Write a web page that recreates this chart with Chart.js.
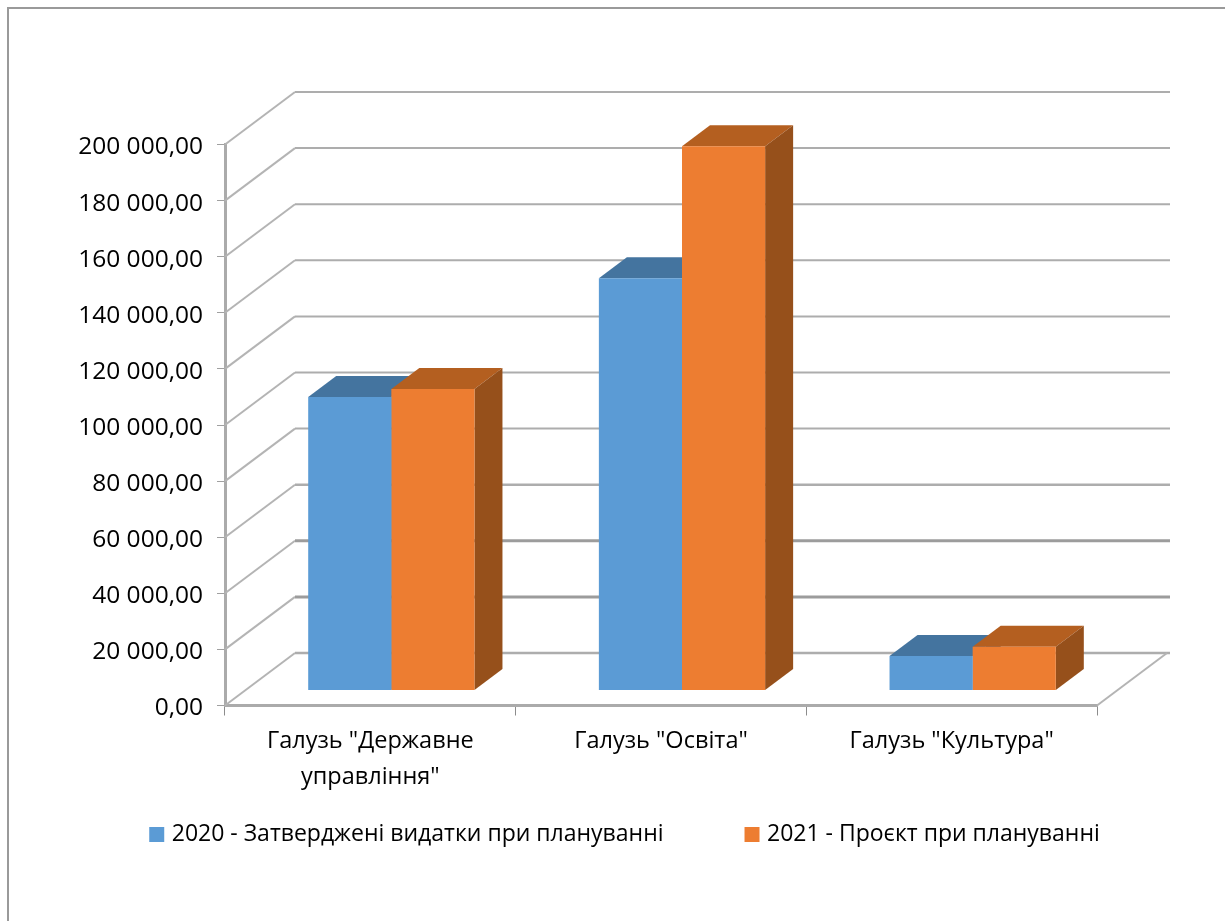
<!DOCTYPE html>
<html>
<head>
<meta charset="utf-8">
<script src="https://cdn.jsdelivr.net/npm/chart.js@4"></script>
<style>
  html, body { margin: 0; padding: 0; background: #fff; }
  canvas { display: block; }
</style>
</head>
<body>
<canvas id="myChart" width="1225" height="921"></canvas>
<script>
const categories = [['Галузь "Державне', 'управління"'], 'Галузь "Освіта"', 'Галузь "Культура"'];
const seriesNames = ['2020 - Затверджені видатки при плануванні', '2021 - Проєкт при плануванні'];
const values2020 = [104600, 147000, 12300];
const values2021 = [107500, 194000, 15600];
const axisMax = 200000;
const axisStep = 20000;

const FONT = '"Open Sans"';
const frontColors = ['#5b9bd5', '#ed7d31'];
const topColors = ['#44749f', '#b45f20'];
const sideColors = ['#3e6a91', '#96501b'];

// fake 3D: back wall offset, bar offset from axis plane, bar depth
const wall = { dx: 70, dy: -52.5 };
const shift = { dx: 21, dy: -15 };
const depth = { dx: 28, dy: -21 };

function face(ctx, color, pts) {
    ctx.fillStyle = color;
    ctx.beginPath();
    pts.forEach((p, i) => i ? ctx.lineTo(p[0], p[1]) : ctx.moveTo(p[0], p[1]));
    ctx.closePath();
    ctx.fill();
}

const box3d = {
    id: "box3d",
    beforeDraw(chart) {
        const ctx = chart.ctx;
        // outer frame, open on the right and at the bottom
        ctx.save();
        ctx.strokeStyle = "#9a9a9a";
        ctx.lineWidth = 2;
        ctx.beginPath();
        ctx.moveTo(8, 921);
        ctx.lineTo(8, 8);
        ctx.lineTo(1225, 8);
        ctx.stroke();
        ctx.restore();
    },
    beforeDatasetsDraw(chart) {
        const ctx = chart.ctx;
        const y = chart.scales.y;
        const a = chart.chartArea;

        ctx.save();
        y.ticks.forEach(t => {
            const py = y.getPixelForValue(t.value);
            // side wall
            ctx.strokeStyle = "#b4b4b4";
            ctx.lineWidth = 2;
            ctx.beginPath();
            ctx.moveTo(a.left, py);
            ctx.lineTo(a.left + wall.dx, py + wall.dy);
            ctx.stroke();
            // back wall, the low lines look heavier in the picture
            const heavy = t.value === 20000 || t.value === 40000;
            ctx.strokeStyle = heavy ? "#9c9c9c" : "#adadad";
            ctx.lineWidth = heavy ? 3 : t.value === 60000 || t.value === 0 ? 2.5 : 2;
            ctx.beginPath();
            ctx.moveTo(a.left + wall.dx, py + wall.dy);
            ctx.lineTo(a.right + wall.dx + 3, py + wall.dy);
            ctx.stroke();
        });
        // floor edge on the right
        const py0 = y.getPixelForValue(0);
        ctx.strokeStyle = "#b4b4b4";
        ctx.lineWidth = 2;
        ctx.beginPath();
        ctx.moveTo(a.right, py0);
        ctx.lineTo(a.right + wall.dx, py0 + wall.dy);
        ctx.stroke();
        ctx.restore();

        ctx.save();
        ctx.translate(shift.dx, shift.dy);
        chart.data.datasets.forEach((ds, di) => {
            chart.getDatasetMeta(di).data.forEach(bar => {
                const p = bar.getProps(["x", "y", "width", "base"], true);
                const l = p.x - p.width / 2, r = p.x + p.width / 2;
                face(ctx, topColors[di], [[l, p.y], [r, p.y], [r + depth.dx, p.y + depth.dy], [l + depth.dx, p.y + depth.dy]]);
                face(ctx, sideColors[di], [[r, p.y], [r + depth.dx, p.y + depth.dy], [r + depth.dx, p.base + depth.dy], [r, p.base]]);
            });
        });
    },
    afterDatasetsDraw(chart) {
        chart.ctx.restore();
    },
    afterLayout(chart) {
        // move the legend to its place under the axis labels
        const l = chart.legend;
        l.left += 14;
        l.right += 14;
        l.top = 823 - l.options.labels.padding;
        l.bottom = l.top + l.height;
    }
};

let ctx = document.getElementById("myChart").getContext("2d");
let myChart = new Chart(ctx, {
    type: "bar",
    data: {
        labels: categories,
        datasets: [
            { label: seriesNames[0], data: values2020, backgroundColor: frontColors[0] },
            { label: seriesNames[1], data: values2021, backgroundColor: frontColors[1] }
        ]
    },
    options: {
        responsive: false,
        animation: false,
        layout: { padding: { left: 0, right: 0, top: 144.5, bottom: 0 } },
        datasets: { bar: { categoryPercentage: 0.572, barPercentage: 1, clip: false } },
        plugins: {
            title: { display: false },
            tooltip: { enabled: false },
            legend: {
                position: "bottom",
                labels: {
                    color: "#000",
                    font: { family: FONT, size: 23 },
                    boxWidth: 7,
                    boxHeight: 7,
                    padding: 85,
                    // thick same-colour stroke: keeps the square close to its text
                    generateLabels(chart) {
                        return Chart.defaults.plugins.legend.labels.generateLabels(chart).map(item => {
                            item.strokeStyle = item.fillStyle;
                            item.lineWidth = 8;
                            return item;
                        });
                    }
                }
            }
        },
        scales: {
            x: {
                grid: { drawOnChartArea: false, drawTicks: true, tickLength: 10, tickColor: "#8c8c8c", tickWidth: 1 },
                border: { color: "#ababab", width: 3 },
                ticks: {
                    color: "#000",
                    font: { family: FONT, size: 23.5, lineHeight: 1.53 },
                    maxRotation: 0,
                    autoSkip: false,
                    padding: 8
                },
                afterFit(s) { s.height = 215.5 - s.chart.legend.height; }
            },
            y: {
                min: 0,
                max: axisMax,
                grid: { drawOnChartArea: false, drawTicks: true, tickLength: 8, tickColor: "#a0a0a0", tickWidth: 1 },
                border: { color: "#ababab", width: 3 },
                ticks: {
                    stepSize: axisStep,
                    color: "#000",
                    font: { family: FONT, size: 24.5 },
                    padding: 14,
                    labelOffset: 3,
                    callback: v => v.toLocaleString("fr-FR", { minimumFractionDigits: 2 }).replace(/[\s\u202f\u00a0]/g, " ")
                },
                afterFit(s) { s.width = 225; }
            },
            // empty axis, only reserves the room right of the plot for the 3D wall
            spacer: {
                position: "right",
                grid: { display: false },
                border: { display: false },
                ticks: { display: false },
                afterFit(s) { s.width = 128; }
            }
        }
    },
    plugins: [box3d]
});
</script>
</body>
</html>
